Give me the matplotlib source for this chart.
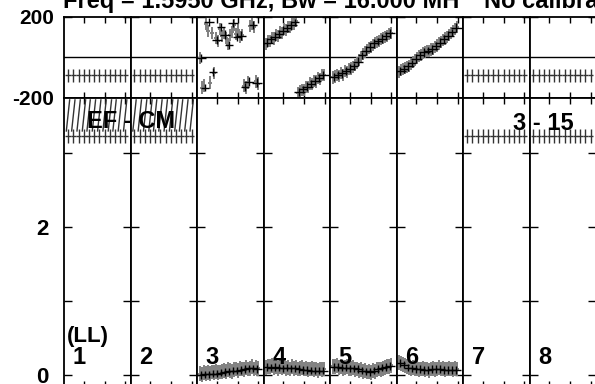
import matplotlib
matplotlib.use('Agg')
import matplotlib.pyplot as plt

plt.rcParams['font.family'] = ['Liberation Sans', 'DejaVu Sans']
plt.rcParams['font.weight'] = 'bold'

# ---- data -----------------------------------------------------------
panel_labels = ['1', '2', '3', '4', '5', '6', '7', '8']
baseline_a = 'EF - CM'
baseline_b = '3 - 15'
title_a = 'Freq = 1.5950 GHz, Bw = 16.000 MH'
title_b = 'No calibration'

# flat (flagged) panels 1, 2, 7, 8
t_flat = [0.06, 0.14, 0.22, 0.30, 0.37, 0.45, 0.53, 0.61, 0.69, 0.76, 0.84, 0.92]
phase_flat = [-90, -90, -90, -90, -90, -90, -90, -90, -90, -90, -90, -90]
amp_flat = [3.23, 3.23, 3.23, 3.23, 3.23, 3.23, 3.23, 3.23, 3.23, 3.23, 3.23, 3.23]

# panels 3-6 : grey = single records, black = averages
t_grey = [0.04, 0.07, 0.10, 0.13, 0.16, 0.19, 0.22, 0.25, 0.28, 0.31,
          0.34, 0.37, 0.40, 0.43, 0.46, 0.49, 0.52, 0.55, 0.58, 0.61,
          0.64, 0.67, 0.70, 0.73, 0.76, 0.79, 0.82, 0.85, 0.88, 0.91]
t_black = [0.06, 0.12, 0.18, 0.24, 0.30, 0.36, 0.42, 0.48, 0.54, 0.60,
           0.66, 0.72, 0.78, 0.84, 0.90]

phase_grey3 = [-5, -150, -140, 165, 130, -125, 120, -80, 95, 80, 140, 105, 120, 95, 65,
               110, 125, 160, 115, 135, 100, 110, -140, -150, -125, 155, 165, 150, -120, -130]
phase_grey4 = [66, 80, 78, 95, 92, 108, 104, 122, 120, 138, 135, 150, 148, 165, 162,
               178, -176, -168, -160, -162, -146, -148, -130, -133, -116, -120, -102, -106, -88, -90]
phase_grey5 = [-100, -95, -88, -94, -80, -86, -70, -74, -60, -56, -48, -40, -30, -15, 0,
               15, 25, 35, 45, 50, 62, 70, 75, 82, 88, 95, 100, 106, 115, 120]
phase_grey6 = [-72, -65, -60, -55, -48, -42, -35, -25, -15, -5, 5, 12, 20, 25, 30,
               32, 38, 42, 50, 58, 68, 75, 85, 92, 100, 108, 118, 128, 138, 148]

phase_black3 = [-4, -150, 174, -73, 85, 149, 110, 60, 169, 100, 105, -147, -122, 159, -127]
phase_black4 = [72, 88, 100, 115, 130, 143, 158, 172, -172, -158, -145, -130, -117, -103, -88]
phase_black5 = [-98, -88, -80, -68, -58, -45, -22, 10, 32, 50, 68, 78, 92, 105, 118]
phase_black6 = [-68, -58, -45, -30, -8, 10, 24, 32, 40, 55, 72, 90, 105, 122, 145]

amp_grey3 = [0.02, 0.01, 0.03, 0.02, 0.03, 0.02, 0.04, 0.03, 0.05, 0.03, 0.04, 0.05, 0.06, 0.05, 0.07,
             0.06, 0.05, 0.07, 0.08, 0.06, 0.09, 0.08, 0.07, 0.10, 0.08, 0.09, 0.11, 0.08, 0.10, 0.09]
amp_grey4 = [0.10, 0.12, 0.11, 0.13, 0.10, 0.12, 0.09, 0.11, 0.10, 0.12, 0.09, 0.10, 0.08, 0.11, 0.09,
             0.10, 0.08, 0.09, 0.10, 0.08, 0.09, 0.07, 0.08, 0.09, 0.07, 0.08, 0.06, 0.08, 0.07, 0.08]
amp_grey5 = [0.12, 0.11, 0.13, 0.10, 0.12, 0.09, 0.10, 0.11, 0.08, 0.09, 0.10, 0.07, 0.08, 0.06, 0.07,
             0.05, 0.06, 0.04, 0.05, 0.03, 0.06, 0.05, 0.07, 0.08, 0.07, 0.09, 0.10, 0.11, 0.12, 0.13]
amp_grey6 = [0.17, 0.16, 0.14, 0.13, 0.11, 0.10, 0.09, 0.10, 0.08, 0.09, 0.07, 0.08, 0.09, 0.07, 0.08,
             0.06, 0.08, 0.09, 0.07, 0.08, 0.10, 0.08, 0.09, 0.07, 0.08, 0.09, 0.08, 0.07, 0.09, 0.08]

amp_black3 = [0.00, 0.01, 0.01, 0.02, 0.02, 0.03, 0.04, 0.05, 0.06, 0.06, 0.07, 0.08, 0.09, 0.09, 0.08]
amp_black4 = [0.11, 0.10, 0.11, 0.10, 0.09, 0.10, 0.09, 0.09, 0.08, 0.07, 0.07, 0.06, 0.06, 0.06, 0.06]
amp_black5 = [0.11, 0.11, 0.10, 0.10, 0.09, 0.09, 0.08, 0.06, 0.05, 0.04, 0.06, 0.08, 0.10, 0.11, 0.12]
amp_black6 = [0.16, 0.14, 0.10, 0.09, 0.08, 0.08, 0.07, 0.07, 0.08, 0.08, 0.08, 0.07, 0.07, 0.07, 0.07]

phase_grey = {3: phase_grey3, 4: phase_grey4, 5: phase_grey5, 6: phase_grey6}
phase_black = {3: phase_black3, 4: phase_black4, 5: phase_black5, 6: phase_black6}
amp_grey = {3: amp_grey3, 4: amp_grey4, 5: amp_grey5, 6: amp_grey6}
amp_black = {3: amp_black3, 4: amp_black4, 5: amp_black5, 6: amp_black6}

# ---- layout (pixels) ------------------------------------------------
W, H = 595, 384
fig = plt.figure(figsize=(W / 100, H / 100), dpi=100)

x0, pw = 64, 66.5
ph_top, ph_bot = 16.7, 97.7
am_bot = 387.0
amp_top = 3.75
amp_low = -(am_bot - 375) / 74.0

grey = '#808080'


def style(ax, yticks):
    ax.set_xlim(0, 1)
    ax.set_xticks([0.30, 0.61, 0.92])
    ax.set_yticks(yticks)
    ax.tick_params(axis='x', direction='in', top=True, bottom=True, length=4, width=1,
                   labelbottom=False)
    ax.tick_params(axis='y', direction='in', left=True, right=True, length=6, width=1,
                   labelleft=False)
    for s in ax.spines.values():
        s.set_linewidth(1.3)
        s.set_color('black')


for i in range(8):
    n = i + 1
    left = (x0 + i * pw) / W
    w = pw / W
    axp = fig.add_axes([left, 1 - ph_bot / H, w, (ph_bot - ph_top) / H])
    axa = fig.add_axes([left, 1 - am_bot / H, w, (am_bot - ph_bot) / H])
    axp.set_ylim(-200, 200)
    axa.set_ylim(amp_low, amp_top)
    style(axp, [-200, 200])
    style(axa, [0, 1, 2, 3])
    axp.axhline(0, color='black', lw=1)

    if n in (1, 2, 7, 8):
        axp.errorbar(t_flat, phase_flat, xerr=0.04, yerr=32, fmt='none',
                     ecolor='#333333', elinewidth=1)
        axa.errorbar(t_flat, amp_flat, xerr=0.04, yerr=0.09, fmt='none',
                     ecolor='#333333', elinewidth=1)
        if n in (1, 2):
            for t in t_flat:
                axa.plot([t - 0.025, t + 0.025], [3.30, 3.72], color='#333333', lw=1)
    else:
        axp.errorbar(t_grey, phase_grey[n], xerr=0.03, yerr=30, fmt='none',
                     ecolor=grey, elinewidth=1.4)
        axp.errorbar(t_black[::2], phase_black[n][::2], xerr=0.08, yerr=22, fmt='none',
                     ecolor='black', elinewidth=1)
        axp.errorbar(t_black[1::2], phase_black[n][1::2], xerr=0.06, yerr=18, fmt='none',
                     ecolor='black', elinewidth=1)
        axa.errorbar(t_grey, amp_grey[n], xerr=0.03, yerr=0.1, fmt='none',
                     ecolor=grey, elinewidth=1.4)
        axa.errorbar(t_black, amp_black[n], xerr=0.07, yerr=0.05, fmt='none',
                     ecolor='black', elinewidth=1)

    axa.text(0.13, 0.15, panel_labels[i], fontsize=17, fontweight='bold',
             ha='left', va='baseline')

    if n == 1:
        axp.set_yticklabels(['-200', '200'])
        axp.tick_params(axis='y', labelleft=True, labelsize=15, pad=7)
        axa.set_yticks([0, 1, 2, 3])
        axa.set_yticklabels(['0', '', '2', ''])
        axa.tick_params(axis='y', labelleft=True, labelsize=16, pad=11)
        axa.text(0.04, 0.44, '(LL)', fontsize=16, fontweight='bold',
                 ha='left', va='baseline')

fig.text(131 / W, 1 - 121 / H, baseline_a, fontsize=17, fontweight='bold',
         ha='center', va='center')
fig.text(543 / W, 1 - 124 / H, baseline_b, fontsize=17, fontweight='bold',
         ha='center', va='center')
fig.text(63 / W, 1 - 8 / H, title_a, fontsize=17, fontweight='bold',
         ha='left', va='baseline')
fig.text(484 / W, 1 - 8 / H, title_b, fontsize=17, fontweight='bold',
         ha='left', va='baseline')

fig.savefig('out.png', dpi=100)
